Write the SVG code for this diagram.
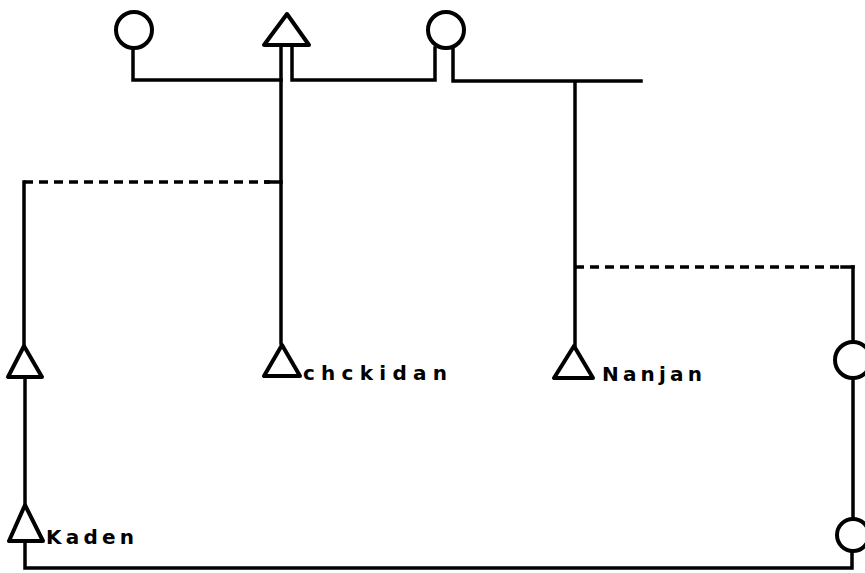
<svg xmlns="http://www.w3.org/2000/svg" width="865" height="573" viewBox="0 0 865 573">
<style>
.ln{fill:none;stroke:#000;stroke-width:3.5;stroke-linecap:square}
.ds{fill:none;stroke:#000;stroke-width:3.5;stroke-dasharray:9 6}
.sym{fill:#fff;stroke:#000;stroke-width:4;stroke-linejoin:round}
.lbl{font-family:"DejaVu Sans","Liberation Sans",sans-serif;font-weight:bold;font-size:20px;fill:#000}
</style>
<rect width="865" height="573" fill="#fff"/>
<g id="connectors">
<polyline class="ln" points="133,48 133,80 281,80"/>
<line class="ln" x1="281" y1="46" x2="281" y2="343"/>
<polyline class="ln" points="292,46 292,80 435,80 435,48"/>
<polyline class="ln" points="453,48 453,81 641,81"/>
<line class="ln" x1="575" y1="82" x2="575" y2="345"/>
<line class="ds" x1="24" y1="182" x2="270" y2="182"/>
<line class="ln" x1="266" y1="182" x2="281" y2="182"/>
<line class="ln" x1="24" y1="182" x2="24" y2="345"/>
<line class="ds" x1="575" y1="267" x2="845" y2="267"/>
<line class="ln" x1="842" y1="267" x2="853" y2="267"/>
<line class="ln" x1="853" y1="267" x2="853" y2="342"/>
<line class="ln" x1="25" y1="378" x2="25" y2="505"/>
<polyline class="ln" points="25,542 25,568 852,568 852,551"/>
<line class="ln" x1="853" y1="378" x2="853" y2="519"/>
</g>
<g id="n_top_left_circle"><circle class="sym" cx="134" cy="30" r="18"/></g>
<g id="n_top_triangle"><polygon class="sym" points="287,14 264,45 309,45"/></g>
<g id="n_top_right_circle"><circle class="sym" cx="446" cy="30" r="18"/></g>
<g id="n_left_triangle"><polygon class="sym" points="24,346 8,377 42,377"/></g>
<g id="n_chckidan"><polygon class="sym" points="282,345 264,376 300,376"/><text class="lbl" x="303" y="380" textLength="144" lengthAdjust="spacing">chckidan</text></g>
<g id="n_nanjan"><polygon class="sym" points="574,346 554,378 593,378"/><text class="lbl" x="602" y="381" textLength="100" lengthAdjust="spacing">Nanjan</text></g>
<g id="n_right_circle_upper"><circle class="sym" cx="853" cy="360" r="18"/></g>
<g id="n_kaden"><polygon class="sym" points="25,505 9,541 43,541"/><text class="lbl" x="46" y="544" textLength="88" lengthAdjust="spacing">Kaden</text></g>
<g id="n_right_circle_lower"><circle class="sym" cx="853" cy="535" r="16"/></g>
</svg>
